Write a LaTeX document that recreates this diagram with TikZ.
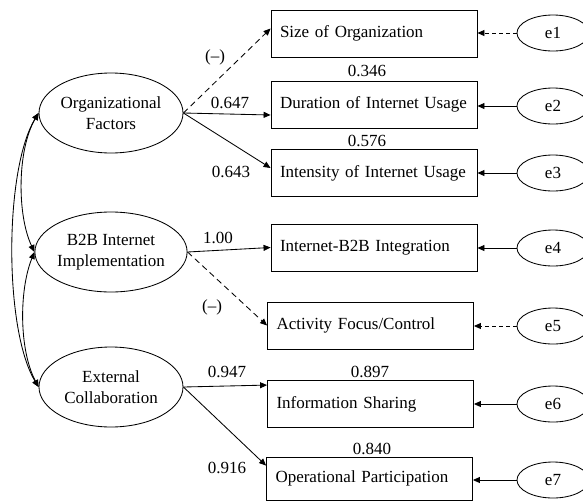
\documentclass[tikz,border=0pt]{standalone}
\usepackage{fontspec}
\setmainfont{Liberation Serif}
\usetikzlibrary{arrows.meta,shapes.geometric,calc}
\begin{document}
\begin{tikzpicture}[x=1pt,y=-1pt,
  every node/.style={font=\fontsize{17}{21}\selectfont},
  lw/.style={line width=0.85pt},
  obs/.style={draw, lw, rectangle, text width=188pt, inner xsep=9pt, inner ysep=0pt, minimum height=47pt, align=left},
  latent/.style={draw, lw, ellipse, minimum width=144pt, minimum height=80pt, inner sep=0pt, align=center},
  err/.style={draw, lw, ellipse, minimum width=72pt, minimum height=36pt, inner sep=0pt},
  load/.style={lw, -{Triangle[length=7pt,width=6pt]}},
  dload/.style={load, dash pattern=on 6pt off 4pt},
  edash/.style={load, dash pattern=on 4pt off 3pt},
  cov/.style={lw, {Triangle[length=7pt,width=6pt]}-{Triangle[length=7pt,width=6pt]}},
  lab/.style={inner sep=0pt}]
\useasboundingbox (0,0) rectangle (583,501);
% latent variables
\node[latent] (of) at (111,113) {Organizational\\Factors};
\node[latent] (bi) at (111,252) {B2B Internet\\Implementation};
\node[latent] (ec) at (111,387) {External\\Collaboration};
% observed variables
\node[obs] (b1) at (374,33.5) {Size of Organization};
\node[obs] (b2) at (374,104.5) {Duration of Internet Usage};
\node[obs] (b3) at (374,173) {Intensity of Internet Usage};
\node[obs] (b4) at (374,247.5) {Internet-B2B Integration};
\node[obs] (b5) at (370.5,325.5) {Activity Focus/Control};
\node[obs] (b6) at (370.5,404) {\raisebox{-7pt}{Information Sharing}};
\node[obs, minimum height=43.5pt] (b7) at (369.5,478.75) {Operational Participation};
% errors
\node[err] (e1) at (553,33) {e1};
\node[err] (e2) at (553,106) {e2};
\node[err] (e3) at (553,173) {e3};
\node[err] (e4) at (553,248) {e4};
\node[err] (e5) at (553,326) {e5};
\node[err] (e6) at (553,404) {e6};
\node[err] (e7) at (553,480) {e7};
% loadings
\draw[dload] (of.east) -- ($(b1.west)+(0,-5)$);
\draw[load] (of.east) -- ($(b2.west)+(0,10.5)$);
\draw[load] (of.east) -- ($(b3.west)+(0,-5)$);
\draw[load] (bi.east) -- (b4.west);
\draw[dload] (bi.east) -- (b5.west);
\draw[load] (ec.east) -- ($(b6.north west)+(0,5)$);
\draw[load] (ec.east) -- ($(b7.north west)+(0,9)$);
% error arrows
\draw[edash] (e1.west) -- (b1.east |- e1.west);
\draw[load] (e2.west) -- (b2.east |- e2.west);
\draw[load] (e3.west) -- (b3.east |- e3.west);
\draw[load] (e4.west) -- (b4.east |- e4.west);
\draw[edash] (e5.west) -- (b5.east |- e5.west);
\draw[load] (e6.west) -- (b6.east |- e6.west);
\draw[load] (e7.west) -- (b7.east |- e7.west);
% covariances
\draw[cov] (of.west) .. controls (4,170) and (4,330) .. (ec.west);
\draw[cov] (of.west) .. controls (17,150) and (17,215) .. (bi.west);
\draw[cov] (bi.west) .. controls (19,290) and (19,350) .. (ec.west);
% labels
\node[lab] (l1) at (215,57) {(–)};
\node[lab] (l2) at (230,103) {0.647};
\node[lab] (l3) at (231,172) {0.643};
\node[lab] (l4) at (218,238) {1.00};
\node[lab] (l5) at (212,307) {(–)};
\node[lab] (l6) at (227,372) {0.947};
\node[lab] (l7) at (227,468) {0.916};
\node[lab] (r2) at (367,71) {0.346};
\node[lab] (r3) at (367,141) {0.576};
\node[lab] (r6) at (370,372) {0.897};
\node[lab] (r7) at (372,449) {0.840};
\end{tikzpicture}
\end{document}
